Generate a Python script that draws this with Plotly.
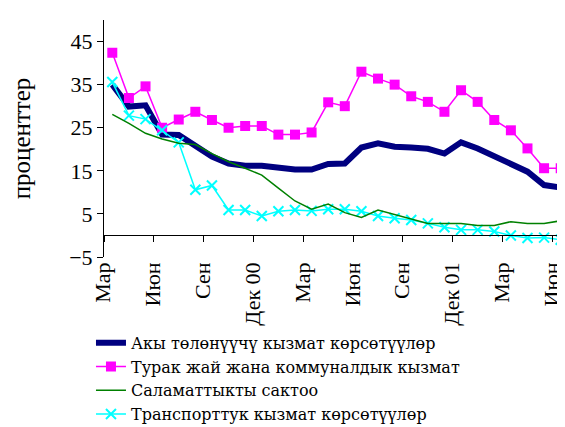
import plotly.graph_objects as go

months = list(range(28))
tick_pos = [0, 3, 6, 9, 12, 15, 18, 21, 24, 27]
tick_labels = ["Мар", "Июн", "Сен", "Дек 00", "Мар", "Июн", "Сен", "Дек 01", "Мар", "Июн"]
y_ticks = [-5, 5, 15, 25, 35, 45]

paid_services = [35.0, 29.9, 30.2, 23.4, 23.3, 20.6, 18.3, 16.7, 16.2, 16.2, 15.7, 15.3, 15.3, 16.6,
                 16.7, 20.4, 21.4, 20.6, 20.4, 20.1, 19.0, 21.6, 20.2, 18.3, 16.7, 14.8, 11.7, 11.1]
housing = [42.4, 31.9, 34.6, 25.0, 26.9, 28.7, 26.8, 25.0, 25.4, 25.4, 23.4, 23.4, 23.9, 30.9,
           30.0, 38.0, 36.4, 35.0, 32.3, 31.0, 28.7, 33.7, 31.0, 26.8, 24.4, 20.2, 15.6, 15.6]
health = [28.1, 26.0, 23.7, 22.4, 21.4, 21.1, 19.0, 17.1, 15.6, 14.0, 11.0, 8.0, 6.1, 7.3,
          5.3, 4.2, 5.9, 4.9, 3.8, 2.8, 2.8, 2.8, 2.3, 2.3, 3.2, 2.8, 2.8, 3.4]
transport = [35.6, 27.8, 27.0, 24.4, 21.6, 10.6, 11.6, 5.9, 5.9, 4.5, 5.6, 5.9, 5.7, 6.1,
             6.1, 5.6, 4.5, 4.0, 3.6, 2.8, 1.9, 1.3, 1.3, 0.9, 0.0, -0.6, -0.5, -1.0]

names = ["Акы төлөнүүчү кызмат көрсөтүүлөр", "Турак жай жана коммуналдык кызмат",
         "Саламаттыкты сактоо", "Транспорттук кызмат көрсөтүүлөр"]

fig = go.Figure()
fig.add_trace(go.Scatter(x=months, y=paid_services, name=names[0], mode="lines",
                         line=dict(color="#000080", width=6)))
fig.add_trace(go.Scatter(x=months, y=housing, name=names[1], mode="lines+markers",
                         line=dict(color="#FF00FF", width=1.5),
                         marker=dict(symbol="square", size=10, color="#FF00FF")))
fig.add_trace(go.Scatter(x=months, y=health, name=names[2], mode="lines", xaxis="x2",
                         line=dict(color="#008000", width=1.5)))
fig.add_trace(go.Scatter(x=months, y=transport, name=names[3], mode="lines+markers",
                         line=dict(color="#00FFFF", width=1.5),
                         marker=dict(symbol="x-thin", size=10, color="#00FFFF",
                                     line=dict(color="#00FFFF", width=2))))

serif = "Liberation Serif"
fig.update_layout(
    width=565, height=427,
    margin=dict(l=96, r=4, t=12, b=178, autoexpand=False),
    paper_bgcolor="white", plot_bgcolor="white",
    showlegend=True,
    legend=dict(x=-0.028, y=-0.29, xanchor="left", yanchor="top",
                font=dict(family="DejaVu Serif", size=16, color="black"),
                bgcolor="rgba(0,0,0,0)", tracegroupgap=0),
    xaxis=dict(range=[-0.5, 27.5], tickmode="array", tickvals=tick_pos, ticktext=tick_labels,
               tickangle=-90, ticks="", showline=False, showgrid=False, zeroline=False,
               ticklabeloverflow="allow", ticklabelshift=-9,
               tickfont=dict(family=serif, size=22, color="black")),
    xaxis2=dict(range=[-0.5, 27.5], overlaying="x", anchor="free", position=5 / 55,
                tickmode="array", tickvals=[i - 0.5 for i in tick_pos[:-1]] + [26.5],
                showticklabels=False, ticks="outside", ticklen=6, tickwidth=1, tickcolor="black",
                showline=True, linecolor="black", linewidth=1, showgrid=False, zeroline=False),
    yaxis=dict(range=[-5, 50], tickmode="array", tickvals=y_ticks, ticks="outside", ticklen=6,
               tickwidth=1, tickcolor="black", showline=True, linecolor="black", linewidth=1,
               showgrid=False, zeroline=False,
               tickfont=dict(family=serif, size=22, color="black"),
               title=dict(text="проценттер", font=dict(family=serif, size=25, color="black"),
                          standoff=36)),
)

fig.write_html("out.html")
